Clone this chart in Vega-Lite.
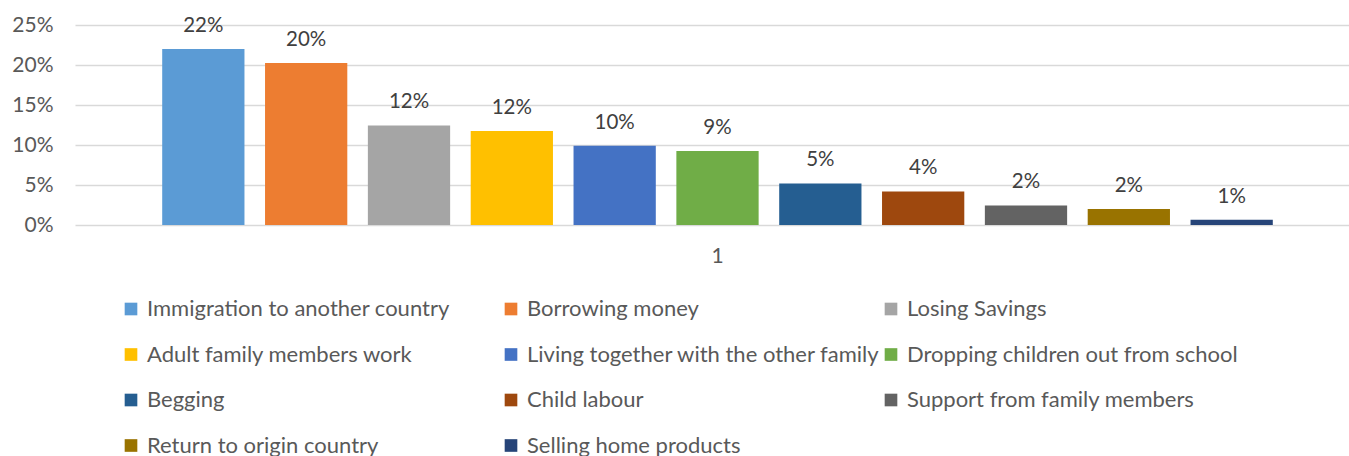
{
  "$schema": "https://vega.github.io/schema/vega-lite/v6.json",
  "autosize": {"type": "none"},
  "padding": {"left": 75, "top": 25, "right": -11, "bottom": 231},
  "width": 1285,
  "height": 200,
  "background": "white",
  "config": {
    "font": "Lato",
    "view": {"stroke": null}
  },
  "data": {
    "values": [
      {"group": "1", "strategy": "Immigration to another country", "value": 0.22},
      {"group": "1", "strategy": "Borrowing money", "value": 0.2025},
      {"group": "1", "strategy": "Losing Savings", "value": 0.1245},
      {"group": "1", "strategy": "Adult family members work", "value": 0.1175},
      {"group": "1", "strategy": "Living together with the other family", "value": 0.099},
      {"group": "1", "strategy": "Dropping children out from school", "value": 0.0925},
      {"group": "1", "strategy": "Begging", "value": 0.052},
      {"group": "1", "strategy": "Child labour", "value": 0.042},
      {"group": "1", "strategy": "Support from family members", "value": 0.0245},
      {"group": "1", "strategy": "Return to origin country", "value": 0.02},
      {"group": "1", "strategy": "Selling home products", "value": 0.0065}
    ]
  },
  "encoding": {
    "x": {
      "field": "group",
      "type": "nominal",
      "scale": {"paddingInner": 0, "paddingOuter": 0.068},
      "axis": {
        "title": null,
        "labelAngle": 0,
        "domain": false,
        "ticks": false,
        "labelPadding": 20,
        "labelFontSize": 21,
        "labelColor": "#595959"
      }
    },
    "xOffset": {
      "field": "strategy",
      "type": "nominal",
      "sort": null,
      "scale": {"paddingInner": 0.2, "paddingOuter": 0.1}
    },
    "y": {
      "field": "value",
      "type": "quantitative",
      "scale": {"domain": [0, 0.25]},
      "axis": {
        "title": null,
        "values": [0, 0.05, 0.1, 0.15, 0.2, 0.25],
        "format": ".0%",
        "domain": false,
        "ticks": false,
        "labelPadding": 22,
        "labelFontSize": 21,
        "labelColor": "#595959",
        "gridColor": "#D9D9D9",
        "gridWidth": 1.5
      }
    }
  },
  "layer": [
    {
      "mark": {"type": "bar"},
      "encoding": {
        "color": {
          "field": "strategy",
          "type": "nominal",
          "sort": null,
          "scale": {
            "range": ["#5B9BD5", "#ED7D31", "#A5A5A5", "#FFC000", "#4472C4", "#70AD47", "#255E91", "#9E480E", "#636363", "#997300", "#264478"]
          },
          "legend": {
            "title": null,
            "orient": "none",
            "legendX": 45,
            "legendY": 273,
            "direction": "horizontal",
            "columns": 3,
            "gridAlign": "all",
            "columnPadding": 0,
            "rowPadding": 23.5,
            "symbolType": "square",
            "symbolSize": 160,
            "symbolStrokeWidth": 0,
            "labelFontSize": 22,
            "labelColor": "#595959",
            "labelOffset": 5,
            "labelLimit": 500
          }
        }
      }
    },
    {
      "mark": {"type": "text", "baseline": "alphabetic", "dy": -17, "fontSize": 20.5, "color": "#404040"},
      "encoding": {
        "text": {"field": "value", "type": "quantitative", "format": ".0%"}
      }
    }
  ]
}
